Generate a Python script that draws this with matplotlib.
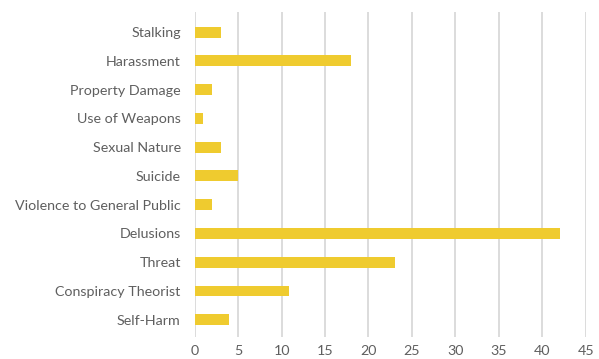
import matplotlib.pyplot as plt

categories = ['Stalking', 'Harassment', 'Property Damage', 'Use of Weapons',
              'Sexual Nature', 'Suicide', 'Violence to General Public',
              'Delusions', 'Threat', 'Conspiracy Theorist', 'Self-Harm']
counts = [3, 18, 2, 1, 3, 5, 2, 42, 23, 10.8, 4]
x_ticks = [0, 5, 10, 15, 20, 25, 30, 35, 40, 45]

plt.rcParams['font.family'] = ['Lato', 'DejaVu Sans']

fig = plt.figure(figsize=(5.99, 3.59), dpi=100)
ax = fig.add_axes([194.7 / 599, 22 / 359, 391 / 599, 325 / 359])

ypos = list(range(len(categories)))
ax.barh(ypos, counts, height=0.38, color='#EFCB2F', zorder=3)

ax.set_yticks(ypos)
ax.set_yticklabels(categories)
ax.set_ylim(10.6, -0.7)
ax.set_xlim(0, 45)
ax.set_xticks(x_ticks)

ax.grid(axis='x', color='#d9d9d9', linewidth=1.3, zorder=0)
for s in ax.spines.values():
    s.set_visible(False)
ax.tick_params(axis='both', length=0, colors='#5f5f5f', labelsize=10.3)
ax.tick_params(axis='y', pad=10)
ax.tick_params(axis='x', pad=6)

fig.savefig('out.png', dpi=100)
